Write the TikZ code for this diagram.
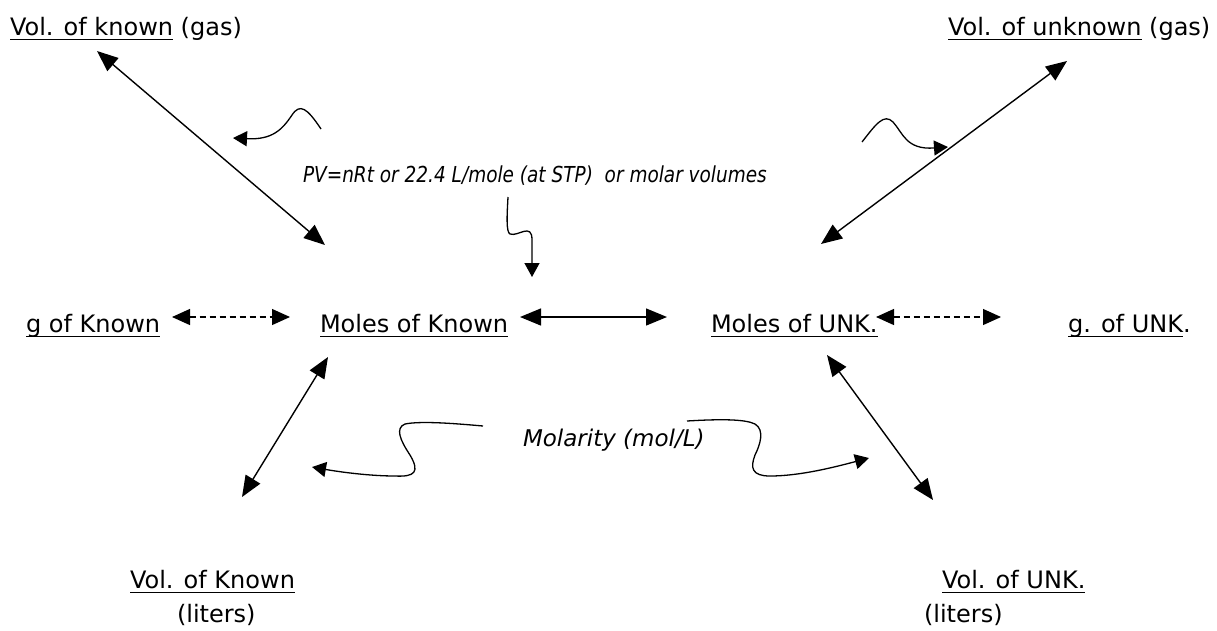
\documentclass[tikz,border=0pt]{standalone}
\usepackage{fontspec}
\setmainfont{DejaVu Sans}
\newfontfamily\pvfont[FakeStretch=0.84]{DejaVu Sans}
\usetikzlibrary{arrows.meta}
\newsavebox\ulbox
\newcommand\myul[1]{\sbox\ulbox{#1}\rlap{\rule[-5pt]{\wd\ulbox}{1.3pt}}\usebox\ulbox}
\begin{document}
\begin{tikzpicture}[x=1pt,y=-1pt,
  font=\fontsize{24}{28}\selectfont,
  lbl/.style={anchor=base west,inner sep=0pt,outer sep=0pt},
  dbl/.style={{Triangle[length=21pt,width=17pt]}-{Triangle[length=21pt,width=17pt]},line width=1.4pt},
  dsh/.style={{Triangle[length=18pt,width=16pt]}-{Triangle[length=18pt,width=16pt]},line width=1.2pt,dash pattern=on 6pt off 4pt},
  sq/.style={-{Triangle[length=14pt,width=15pt]},line width=1.3pt}]
\useasboundingbox (0,0) rectangle (1217,630);
% labels
\node[lbl] (v1) at (10,35) {\myul{Vol. of known} (gas)};
\node[lbl] (v2) at (948,35) {\myul{Vol. of unknown} (gas)};
\node[lbl,font=\pvfont\itshape\fontsize{22}{26}\selectfont] (pv) at (303,182) {PV=nRt or 22.4 L/mole (at STP)\ \ or molar volumes};
\node[lbl] (gK) at (26,332) {\myul{g of Known}};
\node[lbl] (mK) at (320,332) {\myul{Moles of Known}};
\node[lbl] (mU) at (711,332) {\myul{Moles of UNK.}};
\node[lbl] (gU) at (1068,332) {\myul{g. of UNK}.};
\node[lbl,font=\itshape\fontsize{23}{26}\selectfont] (mol) at (523,446) {Molarity (mol/L)};
\node[lbl] (vK) at (130,588) {\myul{Vol. of Known}};
\node[lbl] (lK) at (177,622) {(liters)};
\node[lbl] (vU) at (942,588) {\myul{Vol. of UNK.}};
\node[lbl] (lU) at (924,622) {(liters)};
% straight double arrows
\draw[dbl] ([shift={(87,16)}]v1.base west) -- ([shift={(5,-87)}]mK.base west);
\draw[dbl] ([shift={(110,-88)}]mU.base west) -- ([shift={(119,26)}]v2.base west);
\draw[dsh] ([shift={(146,-15)}]gK.base west) -- ([shift={(-30,-15)}]mK.base west);
\draw[dbl] ([shift={(200,-15)}]mK.base west) -- ([shift={(-44,-15)}]mU.base west);
\draw[dsh] ([shift={(165,-15)}]mU.base west) -- ([shift={(-67,-15)}]gU.base west);
\draw[dbl] ([shift={(8,25)}]mK.base west) -- ([shift={(112,-91)}]vK.base west);
\draw[dbl] ([shift={(116,23)}]mU.base west) -- ([shift={(-9,-88)}]vU.base west);
% squiggle arrows
\coordinate (s1a) at (321,129); \coordinate (s1b) at (233,138);
\draw[sq] (s1a) .. controls (307,108) and (300,103) .. (292,115) .. controls (282,130) and (272,140) .. (s1b);
\coordinate (s2a) at (862,142); \coordinate (s2b) at (948,147);
\draw[sq] (s2a) .. controls (876,124) and (884,113) .. (893,122) .. controls (903,133) and (906,150) .. (s2b);
\coordinate (s3a) at (508,197); \coordinate (s3b) at (532,277);
\draw[sq] (s3a) .. controls (507,215) and (506,232) .. (510,234) .. controls (518,237) and (532,222) .. (532,240) -- (s3b);
\coordinate (s4a) at (483,426); \coordinate (s4b) at (312,467);
\draw[sq] (s4a) .. controls (450,423) and (420,421) .. (405,424) .. controls (395,428) and (400,440) .. (410,455) .. controls (420,472) and (415,477) .. (395,476) .. controls (370,476) and (340,472) .. (s4b);
\coordinate (s5a) at (687,421); \coordinate (s5b) at (869,458);
\draw[sq] (s5a) .. controls (720,419) and (745,419) .. (755,424) .. controls (765,430) and (760,445) .. (755,455) .. controls (750,468) and (752,476) .. (770,476) .. controls (800,476) and (835,467) .. (s5b);
\end{tikzpicture}
\end{document}
